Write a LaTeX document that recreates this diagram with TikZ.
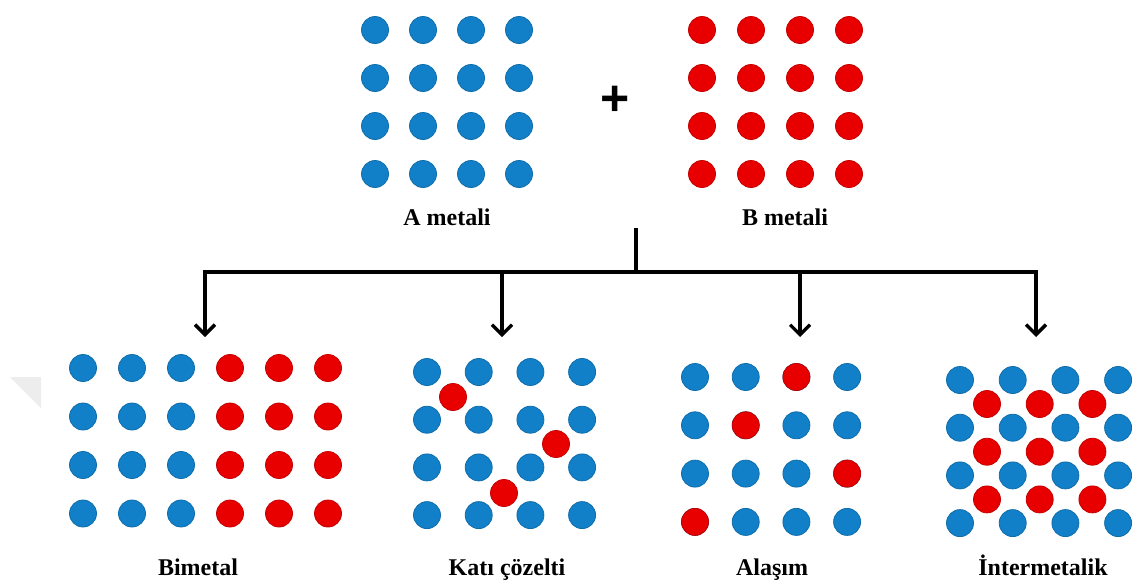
\documentclass[tikz,border=0pt]{standalone}
\usepackage{fontspec}
\setmainfont{Liberation Serif}
\newfontfamily\plusfont{Liberation Sans}
\usetikzlibrary{arrows.meta}
\tikzset{>={Straight Barb[length=10pt,width=20pt]}}
\definecolor{atomA}{RGB}{18,128,200}
\definecolor{atomB}{RGB}{232,0,0}
\newcommand*{\atom}[2]
  {\fill[#1,draw=#1!85!black,line width=.8pt] (#2) circle (13.5pt)}
\tikzset{lbl/.style={font=\fontsize{24}{28}\selectfont\bfseries,
  anchor=base,inner sep=0pt}}

\begin{document}
\begin{tikzpicture}[x=1pt,y=-1pt]
\useasboundingbox (0,0) rectangle (1138,584);
% Scale: 1pt per pixel, y down

% Faint corner mark at the left
\fill[black!7] (10,377) -- (41,377) -- (41,408) -- cycle;

% Pure metals A and B
\foreach \i in {0,...,3}
  \foreach \j in {0,...,3} {
    \atom{atomA}{375+48*\i,30+48*\j};
    \atom{atomB}{702+49*\i,30+48*\j};
  }
\node[font=\plusfont\fontsize{50}{50}\selectfont\bfseries] (plus) at (615,101) {+};
\node[lbl] (A) at (447,225) {A metali};
\node[lbl] (B) at (785,225) {B metali};

% Branching
\coordinate (stem) at (636,228);
\coordinate (bus) at (636,272);
\coordinate (toBi) at (205,337);
\coordinate (toKc) at (502,337);
\coordinate (toAl) at (800,337);
\coordinate (toIm) at (1036,337);
\draw[line width=3.2pt] (stem) -- (bus);
\draw[line width=3.5pt,<->] (toBi) |- (bus) -| (toIm);
\draw[line width=3.2pt,->] (toKc |- bus) -- (toKc);
\draw[line width=3.2pt,->] (toAl |- bus) -- (toAl);

% Bimetal
\foreach \i in {0,...,2}
  \foreach \j in {0,...,3} {
    \atom{atomA}{83+49*\i,368+48.5*\j};
    \atom{atomB}{230+49*\i,368+48.5*\j};
  }
\node[lbl] (Bi) at (198,575) {Bimetal};

% Solid solution: B atoms between the lattice sites
\foreach \i in {0,...,3}
  \foreach \j in {0,...,3}
    \atom{atomA}{427+51.7*\i,372+47.7*\j};
\foreach \p in {{453,397},{556,444},{504,493}}
  \atom{atomB}{\p};
\node[lbl] (Kc) at (507,575) {Katı çözelti};

% Alloy: B atoms on lattice sites
\foreach \i in {0,...,3}
  \foreach \j in {0,...,3}
    \atom{atomA}{695+50.7*\i,377+48.3*\j};
\foreach \i/\j in {2/0,1/1,3/2,0/3}
  \atom{atomB}{695+50.7*\i,377+48.3*\j};
\node[lbl] (Al) at (772,575) {Alaşım};

% Intermetallic: ordered B sublattice
\foreach \i in {0,...,3}
  \foreach \j in {0,...,3}
    \atom{atomA}{960+52.7*\i,380+47.7*\j};
\foreach \i in {0,...,2}
  \foreach \j in {0,...,2}
    \atom{atomB}{987+52.7*\i,404+47.7*\j};
\node[lbl] (Im) at (1043,575) {İntermetalik};
\end{tikzpicture}
\end{document}
